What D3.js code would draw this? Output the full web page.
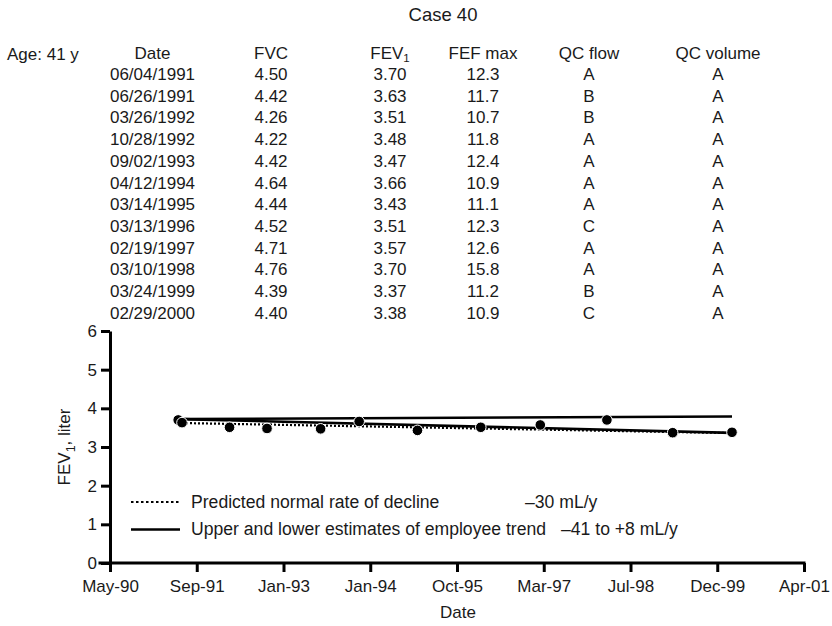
<!DOCTYPE html>
<html>
<head>
<meta charset="utf-8">
<script src="https://cdn.jsdelivr.net/npm/d3@7/dist/d3.min.js"></script>
<style>
  html, body { margin: 0; padding: 0; background: #fff; }
  svg { display: block; }
  text { font-family: "Liberation Sans", Arial, Helvetica, sans-serif; fill: #1a1a1a; }
</style>
</head>
<body>
<svg id="chart" width="832" height="626"></svg>
<script>
// Spirometry record, Case 40
const caseTitle = "Case 40";
const ageLabel = "Age: 41 y";
const testDates = ["06/04/1991", "06/26/1991", "03/26/1992", "10/28/1992", "09/02/1993", "04/12/1994",
                   "03/14/1995", "03/13/1996", "02/19/1997", "03/10/1998", "03/24/1999", "02/29/2000"];
const fvc = [4.50, 4.42, 4.26, 4.22, 4.42, 4.64, 4.44, 4.52, 4.71, 4.76, 4.39, 4.40];
const fev1 = [3.70, 3.63, 3.51, 3.48, 3.47, 3.66, 3.43, 3.51, 3.57, 3.70, 3.37, 3.38];
const fefMax = [12.3, 11.7, 10.7, 11.8, 12.4, 10.9, 11.1, 12.3, 12.6, 15.8, 11.2, 10.9];
const qcFlow = ["A", "B", "B", "A", "A", "A", "A", "C", "A", "A", "B", "C"];
const qcVolume = ["A", "A", "A", "A", "A", "A", "A", "A", "A", "A", "A", "A"];

// Trend lines: baseline level (L) and rate of change (mL/y)
const trendFrom = "06/26/1991";
const trendTo = "02/29/2000";
const employeeBaseline = 3.72;
const predictedBaseline = 3.62;
const predictedRate = -30;
const lowerRate = -41;
const upperRate = 8;

// Axis ticks
const xTickDates = ["05/07/1990", "09/19/1991", "01/31/1993", "06/15/1994", "10/28/1995",
                    "03/11/1997", "07/24/1998", "12/06/1999", "04/19/2001"];
const xTickLabels = ["May-90", "Sep-91", "Jan-93", "Jan-94", "Oct-95", "Mar-97", "Jul-98", "Dec-99", "Apr-01"];
const yTicks = [0, 1, 2, 3, 4, 5, 6];

const legendItems = [
  { label: "Predicted normal rate of decline", value: "\u201330 mL/y", dotted: true },
  { label: "Upper and lower estimates of employee trend", value: "\u201341 to +8 mL/y", dotted: false }
];

const parse = d3.timeParse("%m/%d/%Y");
const svg = d3.select("#chart");
const FS = 17;
const LFS = 17.6;

// ---------- title and table ----------
svg.append("text").attr("x", 443).attr("y", 21).attr("text-anchor", "middle")
  .style("font-size", "18.5px").text(caseTitle);
svg.append("text").attr("x", 7).attr("y", 60).style("font-size", FS + "px").text(ageLabel);

const cols = [
  { head: "Date", x: 152.5, vals: testDates },
  { head: "FVC", x: 271, vals: fvc.map(d => d.toFixed(2)) },
  { head: "FEV", sub: "1", x: 390, vals: fev1.map(d => d.toFixed(2)) },
  { head: "FEF max", x: 483, vals: fefMax.map(d => d.toFixed(1)) },
  { head: "QC flow", x: 589, vals: qcFlow },
  { head: "QC volume", x: 718, vals: qcVolume }
];
const rowY = i => 80 + i * 21.7;

cols.forEach(c => {
  const h = svg.append("text").attr("x", c.x).attr("y", 58.5).attr("text-anchor", "middle")
    .style("font-size", FS + "px");
  h.append("tspan").text(c.head);
  if (c.sub) h.append("tspan").attr("dy", 3.5).style("font-size", "11.5px").text(c.sub);
  svg.append("g").selectAll("text").data(c.vals).join("text")
    .attr("x", c.x).attr("y", (d, i) => rowY(i)).attr("text-anchor", "middle")
    .style("font-size", FS + "px").text(d => d);
});

// ---------- chart ----------
const x = d3.scaleTime()
  .domain([parse("05/07/1990"), parse("04/19/2001")])
  .range([110, 804]);
const y = d3.scaleLinear().domain([0, 6]).range([563, 331]);

const tickDates = xTickDates.map(parse);
const xAxis = d3.axisBottom(x).tickValues(tickDates)
  .tickFormat((d, i) => xTickLabels[i]).tickSize(9).tickSizeOuter(0).tickPadding(8);
const yAxis = d3.axisLeft(y).tickValues(yTicks).tickFormat(d3.format("d"))
  .tickSize(9).tickSizeOuter(0).tickPadding(4);

// trend lines
const years = (d3.timeDay.count(parse(trendFrom), parse(trendTo))) / 365.25;
const trendLines = [
  { start: employeeBaseline, rate: upperRate, dotted: false },
  { start: employeeBaseline, rate: lowerRate, dotted: false },
  { start: predictedBaseline, rate: predictedRate, dotted: true }
];
const line = d3.line().x(d => x(d[0])).y(d => y(d[1]));
svg.append("g").selectAll("path").data(trendLines).join("path")
  .attr("d", t => line([[parse(trendFrom), t.start], [parse(trendTo), t.start + t.rate / 1000 * years]]))
  .attr("fill", "none").attr("stroke", "#000")
  .attr("stroke-width", t => t.dotted ? 2.2 : 2.6)
  .attr("stroke-dasharray", t => t.dotted ? "2,2" : null);

// measured FEV1 points
svg.append("g").selectAll("circle").data(testDates).join("circle")
  .attr("cx", d => x(parse(d))).attr("cy", (d, i) => y(fev1[i]))
  .attr("r", 5.3).attr("fill", "#000").attr("stroke", "#fff").attr("stroke-width", 1);

// axes
const gx = svg.append("g").attr("transform", "translate(0,563)").call(xAxis);
const gy = svg.append("g").attr("transform", "translate(110,0)").call(yAxis);
[gx, gy].forEach(g => {
  g.select(".domain").attr("stroke", "#000").attr("stroke-width", 3);
  g.selectAll(".tick line").attr("stroke", "#000").attr("stroke-width", 3);
  g.selectAll(".tick text").attr("fill", "#1a1a1a")
    .style("font-size", FS + "px").style("font-family", "'Liberation Sans', Arial, sans-serif");
});
// extend the x baseline slightly left of the y axis
gx.select(".domain").attr("d", "M98.5,0H805.5");

// axis titles
svg.append("text").attr("x", 458).attr("y", 618).attr("text-anchor", "middle")
  .style("font-size", FS + "px").text("Date");
const yl = svg.append("text").attr("text-anchor", "middle")
  .attr("transform", "translate(70,447) rotate(-90)").style("font-size", FS + "px");
yl.append("tspan").text("FEV");
yl.append("tspan").attr("dy", 5).style("font-size", "12.5px").text("1");
yl.append("tspan").attr("dy", -5).text(", liter");

// legend
const lg = svg.append("g").selectAll("g").data(legendItems).join("g")
  .attr("transform", (d, i) => `translate(0,${502 + i * 27.5})`);
lg.append("line").attr("x1", 131).attr("x2", 180).attr("y1", 0).attr("y2", 0)
  .attr("stroke", "#000")
  .attr("stroke-width", d => d.dotted ? 2.2 : 2.6)
  .attr("stroke-dasharray", d => d.dotted ? "2.5,2.5" : null);
lg.append("text").attr("x", 191).attr("y", 5.5).style("font-size", LFS + "px").text(d => d.label);
lg.append("text").attr("x", (d, i) => i === 0 ? 525 : 561).attr("y", 5.5)
  .style("font-size", LFS + "px").text(d => d.value);
</script>
</body>
</html>
